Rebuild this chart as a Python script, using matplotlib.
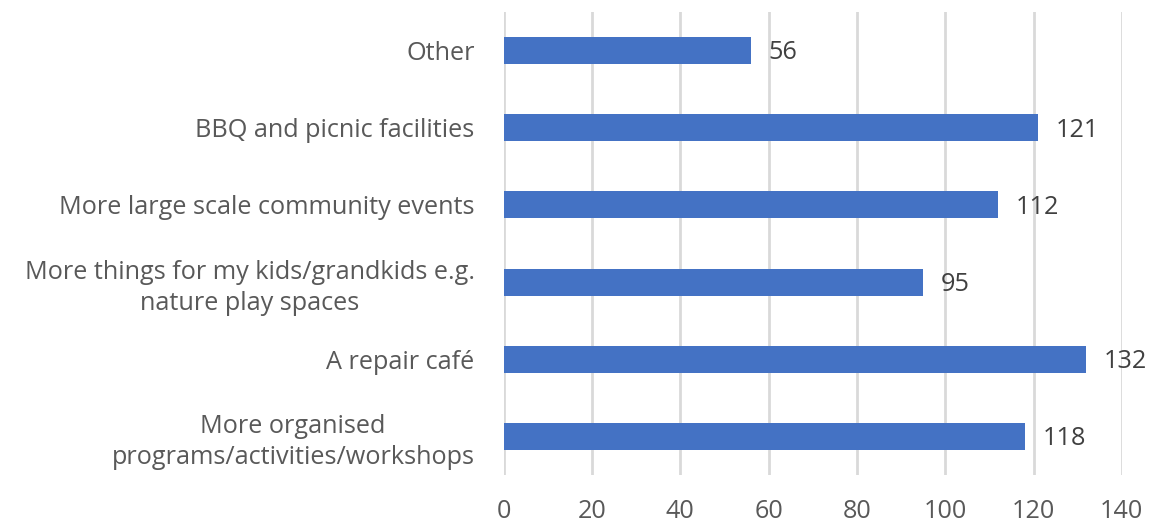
import matplotlib
matplotlib.use("Agg")
import matplotlib.pyplot as plt

categories = [
    "More organised\nprograms/activities/workshops",
    "A repair café",
    "More things for my kids/grandkids e.g.\nnature play spaces",
    "More large scale community events",
    "BBQ and picnic facilities",
    "Other",
]
values = [118, 132, 95, 112, 121, 56]
xticks = [0, 20, 40, 60, 80, 100, 120, 140]

plt.rcParams['font.family'] = ['Open Sans', 'DejaVu Sans']
text_color = "#595959"
fs = 18.2

fig = plt.figure(figsize=(11.59, 5.27), dpi=100)
ax = fig.add_axes([503.7/1159, 1 - 475/527, (1121.8-503.7)/1159, (475-12)/527])

y = list(range(len(categories)))
ax.barh(y, values, height=0.35, color="#4472C4", zorder=3)
for yi, v in zip(y, values):
    ax.text(v + 4.0, yi - 0.03, str(v), va="center", ha="left", fontsize=fs, color="#404040")

ax.set_xlim(0, 140)
ax.set_ylim(-0.5, len(categories) - 0.5)
ax.set_xticks(xticks)
ax.set_xticklabels([str(t) for t in xticks], fontsize=fs, color=text_color)
ax.set_yticks(y)
ax.set_yticklabels(categories, fontsize=fs, color=text_color, ha="right",
                   multialignment="center", linespacing=1.3)
ax.tick_params(axis="y", length=0, pad=21)
ax.tick_params(axis="x", length=0, pad=17)
ax.grid(axis="x", color="#D9D9D9", linewidth=2, zorder=0)
for s in ax.spines.values():
    s.set_visible(False)

fig.savefig("out.png", dpi=100)
